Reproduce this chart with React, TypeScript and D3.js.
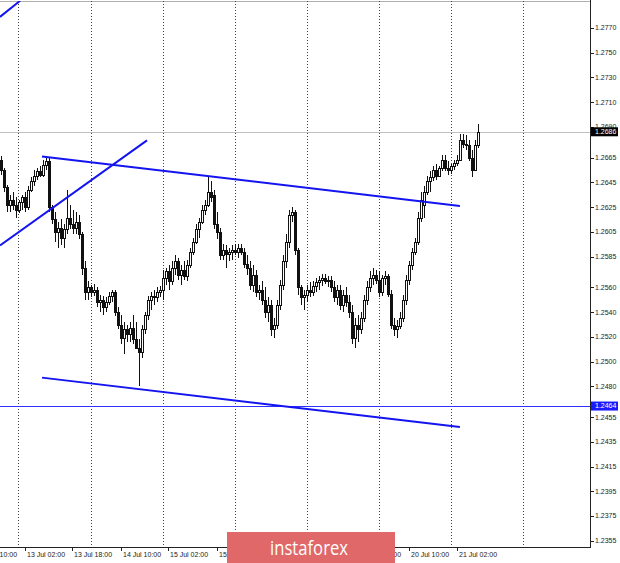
import React from 'react';
import * as d3 from 'd3';

// Right price-axis tick labels
const priceTicks = [1.2770, 1.2750, 1.2730, 1.2710, 1.2690, 1.2665, 1.2645, 1.2625, 1.2605, 1.2585, 1.2560, 1.2540, 1.2520, 1.2500, 1.2480, 1.2455, 1.2435, 1.2415, 1.2395, 1.2375, 1.2355];
// Time-axis ticks (bar index) and labels
const timeTickIndex = [-8, 8, 24, 40, 56, 72, 88, 104, 120, 136, 152];
const timeTickLabels = ['10 Jul 10:00', '13 Jul 02:00', '13 Jul 18:00', '14 Jul 10:00', '15 Jul 02:00', '15 Jul 18:00', '16 Jul 10:00', '17 Jul 02:00', '17 Jul 18:00', '20 Jul 10:00', '21 Jul 02:00'];
// Day separators (bar index of 00:00)
const daySeparators = [6, 30, 54, 78, 102, 126, 150, 174];
// Current bid & horizontal level
const bidPrice = 1.2686;
const levelPrice = 1.2464;
// Trend lines: [index1, price1, index2, price2]
const trendLines: [number, number, number, number][] = [
  [-0.5, 1.2779, 6.2, 1.2792],
  [-0.5, 1.2594, 48.5, 1.2679],
  [13.5, 1.2666, 152.8, 1.2626],
  [13.5, 1.2487, 152.8, 1.2447],
];
// H1 candles: [open, high, low, close]
const candles: [number, number, number, number][] = [
  [1.2663, 1.2666, 1.2651, 1.2655], [1.2655, 1.2657, 1.2637, 1.2641], [1.2641, 1.2643, 1.2621, 1.2627], [1.2627, 1.2635, 1.2621, 1.2631],
  [1.2631, 1.2637, 1.2623, 1.2627], [1.2627, 1.2633, 1.2616, 1.2623], [1.2623, 1.2631, 1.2620, 1.2629], [1.2629, 1.2635, 1.2623, 1.2633],
  [1.2633, 1.2637, 1.2621, 1.2625], [1.2625, 1.2642, 1.2623, 1.2639], [1.2639, 1.2649, 1.2637, 1.2646], [1.2646, 1.2655, 1.2642, 1.2650],
  [1.2650, 1.2657, 1.2647, 1.2654], [1.2654, 1.2658, 1.2649, 1.2651], [1.2651, 1.2663, 1.2649, 1.2659], [1.2659, 1.2666, 1.2655, 1.2662],
  [1.2662, 1.2665, 1.2621, 1.2625], [1.2625, 1.2627, 1.2611, 1.2615], [1.2615, 1.2621, 1.2597, 1.2605], [1.2605, 1.2613, 1.2592, 1.2608],
  [1.2608, 1.2615, 1.2594, 1.2600], [1.2600, 1.2611, 1.2592, 1.2607], [1.2607, 1.2639, 1.2603, 1.2616], [1.2616, 1.2627, 1.2607, 1.2611],
  [1.2611, 1.2623, 1.2603, 1.2608], [1.2608, 1.2621, 1.2603, 1.2613], [1.2613, 1.2619, 1.2599, 1.2603], [1.2603, 1.2605, 1.2570, 1.2576],
  [1.2576, 1.2581, 1.2550, 1.2556], [1.2556, 1.2565, 1.2550, 1.2560], [1.2560, 1.2562, 1.2552, 1.2556], [1.2556, 1.2563, 1.2553, 1.2558],
  [1.2558, 1.2560, 1.2544, 1.2548], [1.2548, 1.2554, 1.2540, 1.2550], [1.2550, 1.2553, 1.2538, 1.2544], [1.2544, 1.2552, 1.2540, 1.2548],
  [1.2548, 1.2556, 1.2546, 1.2553], [1.2553, 1.2558, 1.2548, 1.2556], [1.2556, 1.2558, 1.2537, 1.2540], [1.2540, 1.2544, 1.2526, 1.2530],
  [1.2530, 1.2538, 1.2514, 1.2519], [1.2519, 1.2532, 1.2506, 1.2526], [1.2526, 1.2530, 1.2516, 1.2522], [1.2522, 1.2532, 1.2516, 1.2527],
  [1.2527, 1.2538, 1.2514, 1.2518], [1.2518, 1.2532, 1.2510, 1.2511], [1.2511, 1.2518, 1.2480, 1.2508], [1.2508, 1.2530, 1.2503, 1.2526],
  [1.2526, 1.2540, 1.2522, 1.2538], [1.2538, 1.2553, 1.2534, 1.2550], [1.2550, 1.2556, 1.2542, 1.2553], [1.2553, 1.2558, 1.2546, 1.2552],
  [1.2552, 1.2560, 1.2548, 1.2556], [1.2556, 1.2561, 1.2552, 1.2558], [1.2558, 1.2574, 1.2550, 1.2568], [1.2568, 1.2576, 1.2562, 1.2573],
  [1.2573, 1.2578, 1.2558, 1.2565], [1.2565, 1.2581, 1.2562, 1.2576], [1.2576, 1.2586, 1.2570, 1.2581], [1.2581, 1.2584, 1.2566, 1.2570],
  [1.2570, 1.2578, 1.2562, 1.2574], [1.2574, 1.2581, 1.2566, 1.2569], [1.2569, 1.2582, 1.2565, 1.2578], [1.2578, 1.2592, 1.2576, 1.2589],
  [1.2589, 1.2600, 1.2586, 1.2597], [1.2597, 1.2611, 1.2595, 1.2607], [1.2607, 1.2616, 1.2600, 1.2613], [1.2613, 1.2627, 1.2611, 1.2623],
  [1.2623, 1.2631, 1.2619, 1.2627], [1.2627, 1.2650, 1.2625, 1.2637], [1.2637, 1.2646, 1.2629, 1.2633], [1.2635, 1.2639, 1.2607, 1.2611],
  [1.2611, 1.2621, 1.2599, 1.2605], [1.2605, 1.2608, 1.2582, 1.2586], [1.2586, 1.2595, 1.2582, 1.2590], [1.2590, 1.2594, 1.2576, 1.2587],
  [1.2587, 1.2592, 1.2581, 1.2589], [1.2589, 1.2594, 1.2582, 1.2590], [1.2590, 1.2595, 1.2586, 1.2589], [1.2589, 1.2595, 1.2584, 1.2592],
  [1.2592, 1.2595, 1.2586, 1.2589], [1.2589, 1.2592, 1.2576, 1.2579], [1.2579, 1.2586, 1.2570, 1.2576], [1.2576, 1.2581, 1.2558, 1.2562],
  [1.2562, 1.2578, 1.2556, 1.2570], [1.2570, 1.2574, 1.2552, 1.2556], [1.2556, 1.2562, 1.2550, 1.2558], [1.2558, 1.2565, 1.2546, 1.2550],
  [1.2550, 1.2560, 1.2535, 1.2540], [1.2540, 1.2552, 1.2532, 1.2546], [1.2546, 1.2550, 1.2521, 1.2526], [1.2526, 1.2535, 1.2519, 1.2530],
  [1.2530, 1.2550, 1.2526, 1.2546], [1.2546, 1.2566, 1.2542, 1.2562], [1.2562, 1.2586, 1.2558, 1.2581], [1.2581, 1.2603, 1.2576, 1.2597],
  [1.2597, 1.2623, 1.2592, 1.2619], [1.2619, 1.2625, 1.2613, 1.2621], [1.2621, 1.2623, 1.2586, 1.2590], [1.2590, 1.2592, 1.2554, 1.2560],
  [1.2560, 1.2562, 1.2546, 1.2552], [1.2552, 1.2558, 1.2542, 1.2554], [1.2554, 1.2562, 1.2548, 1.2558], [1.2558, 1.2564, 1.2552, 1.2556],
  [1.2556, 1.2565, 1.2553, 1.2561], [1.2561, 1.2568, 1.2556, 1.2564], [1.2564, 1.2569, 1.2558, 1.2566], [1.2566, 1.2571, 1.2561, 1.2568],
  [1.2568, 1.2571, 1.2563, 1.2565], [1.2565, 1.2569, 1.2560, 1.2566], [1.2566, 1.2569, 1.2556, 1.2560], [1.2560, 1.2565, 1.2548, 1.2552],
  [1.2552, 1.2562, 1.2546, 1.2558], [1.2558, 1.2562, 1.2542, 1.2546], [1.2546, 1.2558, 1.2540, 1.2554], [1.2554, 1.2560, 1.2544, 1.2548],
  [1.2548, 1.2554, 1.2535, 1.2540], [1.2540, 1.2546, 1.2514, 1.2519], [1.2519, 1.2535, 1.2511, 1.2530], [1.2530, 1.2538, 1.2516, 1.2526],
  [1.2526, 1.2540, 1.2522, 1.2535], [1.2535, 1.2554, 1.2532, 1.2550], [1.2550, 1.2565, 1.2546, 1.2560], [1.2560, 1.2573, 1.2556, 1.2568],
  [1.2568, 1.2576, 1.2562, 1.2570], [1.2570, 1.2574, 1.2563, 1.2566], [1.2566, 1.2573, 1.2552, 1.2556], [1.2556, 1.2570, 1.2553, 1.2568],
  [1.2568, 1.2573, 1.2562, 1.2569], [1.2569, 1.2571, 1.2552, 1.2555], [1.2555, 1.2558, 1.2526, 1.2530], [1.2530, 1.2535, 1.2521, 1.2526],
  [1.2526, 1.2534, 1.2519, 1.2529], [1.2529, 1.2540, 1.2526, 1.2535], [1.2535, 1.2554, 1.2532, 1.2550], [1.2550, 1.2570, 1.2546, 1.2566],
  [1.2566, 1.2581, 1.2562, 1.2578], [1.2578, 1.2592, 1.2574, 1.2589], [1.2589, 1.2600, 1.2586, 1.2597], [1.2597, 1.2621, 1.2594, 1.2616],
  [1.2616, 1.2637, 1.2613, 1.2631], [1.2627, 1.2642, 1.2616, 1.2637], [1.2637, 1.2650, 1.2635, 1.2646], [1.2646, 1.2654, 1.2637, 1.2649],
  [1.2649, 1.2658, 1.2646, 1.2655], [1.2655, 1.2660, 1.2647, 1.2650], [1.2650, 1.2658, 1.2649, 1.2657], [1.2657, 1.2667, 1.2654, 1.2663],
  [1.2663, 1.2667, 1.2654, 1.2657], [1.2657, 1.2662, 1.2651, 1.2655], [1.2655, 1.2660, 1.2652, 1.2658], [1.2658, 1.2663, 1.2655, 1.2661],
  [1.2661, 1.2667, 1.2658, 1.2663], [1.2663, 1.2684, 1.2662, 1.2679], [1.2679, 1.2684, 1.2673, 1.2676], [1.2676, 1.2683, 1.2671, 1.2675],
  [1.2675, 1.2679, 1.2662, 1.2665], [1.2665, 1.2671, 1.2649, 1.2655], [1.2655, 1.2679, 1.2654, 1.2675], [1.2675, 1.2692, 1.2673, 1.2686],
];

const W = 620;
const H = 563;
const PLOT_R = 590;
const PLOT_T = 1;
const PLOT_B = 547;
const FONT = '"Liberation Sans", Arial, sans-serif';

export default function App() {
  const x = d3.scaleLinear().domain([0, 159]).range([1.5, 478.5]);
  const y = d3.scaleLinear().domain([1.2355, 1.2770]).range([540.7, 28]);
  const py = (v: number) => Math.round(y(v)) + 0.5;
  const blue = '#1414f0';

  return (
    <div style={{ position: 'absolute', left: 0, top: 0 }}>
      <svg width={W} height={H} style={{ display: 'block', background: '#fff' }}>
        <defs>
          <clipPath id="plot">
            <rect x={0} y={PLOT_T} width={PLOT_R} height={PLOT_B - PLOT_T} />
          </clipPath>
        </defs>
        <rect x={0} y={0} width={W} height={H} fill="#fff" />
        {/* top frame */}
        <line x1={0} x2={PLOT_R} y1={1.5} y2={1.5} stroke="#b0b0b0" strokeWidth={1} />
        {/* day separators */}
        {daySeparators.map((d) => (
          <line key={'g' + d} x1={Math.round(x(d)) - 0.5} x2={Math.round(x(d)) - 0.5} y1={PLOT_T} y2={PLOT_B}
            stroke="#444" strokeWidth={1} strokeDasharray="1,2" />
        ))}
        {/* bid line */}
        <line x1={0} x2={PLOT_R} y1={py(bidPrice)} y2={py(bidPrice)} stroke="#c0c0c0" strokeWidth={1} />
        {/* horizontal level */}
        <line x1={0} x2={PLOT_R} y1={py(levelPrice)} y2={py(levelPrice)} stroke="#3030ff" strokeWidth={1} />
        {/* candles */}
        <g clipPath="url(#plot)">
          {candles.map(([o, h, l, c], i) => {
            const cx = x(i);
            const top = Math.round(y(Math.max(o, c)));
            const bot = Math.round(y(Math.min(o, c)));
            const bull = c >= o;
            return (
              <g key={i}>
                <line x1={cx} x2={cx} y1={Math.round(y(h))} y2={Math.round(y(l))} stroke="#111" strokeWidth={1} />
                <rect x={cx - 1} y={top + 0.5} width={2} height={Math.max(bot - top, 0)}
                  fill={bull ? '#fff' : '#111'} stroke="#111" strokeWidth={1} />
              </g>
            );
          })}
          {/* trend lines */}
          {trendLines.map(([i1, p1, i2, p2], k) => (
            <line key={'t' + k} x1={x(i1)} y1={y(p1)} x2={x(i2)} y2={y(p2)} stroke={blue} strokeWidth={2} />
          ))}
        </g>
        {/* axes */}
        <line x1={PLOT_R + 0.5} x2={PLOT_R + 0.5} y1={0} y2={PLOT_B + 1} stroke="#222" strokeWidth={1} />
        <line x1={0} x2={PLOT_R + 1} y1={PLOT_B + 0.5} y2={PLOT_B + 0.5} stroke="#222" strokeWidth={1} />
        {priceTicks.map((t) => (
          <g key={'p' + t}>
            <line x1={PLOT_R} x2={PLOT_R + 4} y1={py(t)} y2={py(t)} stroke="#222" strokeWidth={1} />
            <text x={PLOT_R + 5} y={y(t)} dy="0.35em" fontSize={7} fontFamily={FONT} fill="#222">{t.toFixed(4)}</text>
          </g>
        ))}
        {timeTickIndex.map((ti, k) => {
          const tx = Math.round(x(ti)) - 0.5;
          return (
            <g key={'x' + k}>
              <line x1={tx} x2={tx} y1={PLOT_B} y2={PLOT_B + 4} stroke="#222" strokeWidth={1} />
              <text x={tx + 1.5} y={557} fontSize={7} fontFamily={FONT} fill="#222">{timeTickLabels[k]}</text>
            </g>
          );
        })}
        {/* current price & level labels */}
        <rect x={PLOT_R + 1} y={y(bidPrice) - 4.5} width={27} height={9} fill="#000" />
        <text x={PLOT_R + 5} y={y(bidPrice)} dy="0.35em" fontSize={7} fontFamily={FONT} fill="#fff">{bidPrice.toFixed(4)}</text>
        <rect x={PLOT_R + 1} y={y(levelPrice) - 4.5} width={27} height={9} fill="#1a1aff" />
        <text x={PLOT_R + 5} y={y(levelPrice)} dy="0.35em" fontSize={7} fontFamily={FONT} fill="#fff">{levelPrice.toFixed(4)}</text>
        {/* watermark */}
        <rect x={227} y={532} width={168} height={31} fill="#e06868" />
        <text x={309} y={555} textAnchor="middle" fontSize={20} fontFamily='"Open Sans", "Noto Sans", sans-serif'
          fill="#fff" textLength={78} lengthAdjust="spacingAndGlyphs">instaforex</text>
      </svg>
    </div>
  );
}
